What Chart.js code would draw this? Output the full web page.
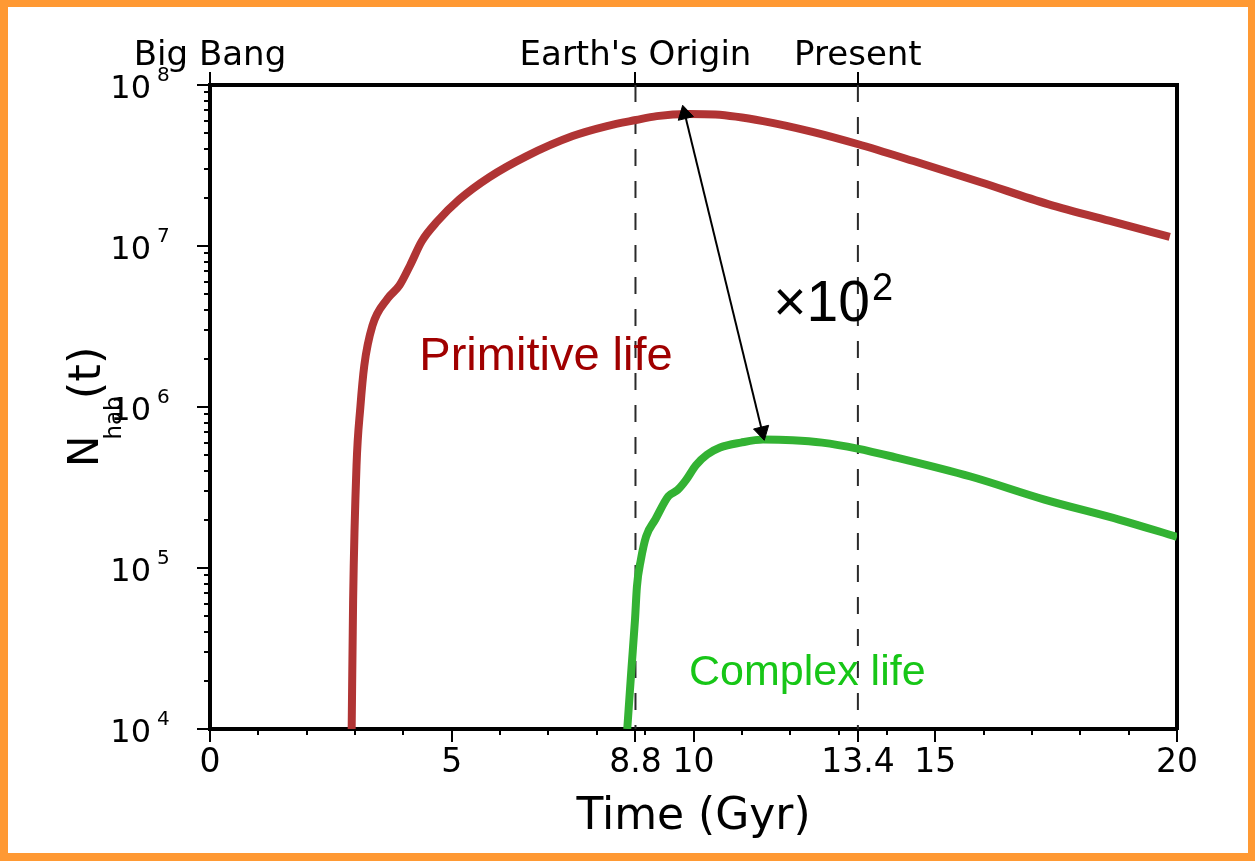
<!DOCTYPE html>
<html>
<head>
<meta charset="utf-8">
<script src="https://cdn.jsdelivr.net/npm/chart.js@4.4.1/dist/chart.umd.min.js"></script>
<style>
html, body { margin: 0; padding: 0; background: #ffffff; }
#wrap { position: relative; width: 1255px; height: 861px; background: #ffffff; }
#frame { position: absolute; left: 0; top: 0; width: 1255px; height: 861px; box-sizing: border-box;
  border-style: solid; border-color: #ff9933; border-width: 7px 7px 8px 8px; pointer-events: none; }
canvas { display: block; }
</style>
</head>
<body>
<div id="wrap"><canvas id="c" width="1255" height="861"></canvas><div id="frame"></div></div>
<script>
// ---------------- data ----------------
const redTime = [2.93, 2.96, 3.03, 3.11, 3.19, 3.36, 3.67, 3.92, 4.14, 4.38, 4.70, 5.16, 5.78, 6.55, 7.50, 8.21, 8.81, 9.24, 9.90, 10.45, 11.44, 12.48, 13.39, 14.55, 15.94, 17.33, 18.69, 19.85];
const redN    = [1.0e4, 6.3e4, 4.3e5, 1.0e6, 1.8e6, 3.2e6, 4.7e6, 5.7e6, 7.6e6, 1.07e7, 1.42e7, 1.95e7, 2.68e7, 3.62e7, 4.82e7, 5.56e7, 6.06e7, 6.41e7, 6.6e7, 6.55e7, 5.97e7, 5.1e7, 4.3e7, 3.37e7, 2.49e7, 1.82e7, 1.41e7, 1.14e7];

const greenTime = [8.63, 8.715, 8.79, 8.83, 8.91, 9.02, 9.21, 9.48, 9.67, 9.84, 10.05, 10.28, 10.55, 10.98, 11.44, 12.05, 12.66, 13.39, 14.20, 15.73, 17.26, 18.80, 20.0];
const greenN    = [1.0e4, 2.33e4, 4.77e4, 7.67e4, 1.12e5, 1.57e5, 2.0e5, 2.79e5, 3.05e5, 3.5e5, 4.35e5, 5.06e5, 5.6e5, 6.01e5, 6.28e5, 6.22e5, 6.01e5, 5.52e5, 4.85e5, 3.70e5, 2.66e5, 2.0e5, 1.56e5];

const arrowTime = [9.82, 11.42];
const arrowN    = [6.6e7, 7.04e5];

const eventTimes  = [0, 8.8, 13.4];
const eventLabels = ['Big Bang', "Earth's Origin", 'Present'];

const xRange = [0, 20];
const yRange = [1e4, 1e8];
const xMajorTicks = [0, 5, 8.8, 10, 13.4, 15, 20];
const yDecades = [1e4, 1e5, 1e6, 1e7, 1e8];

// ---------------- annotation texts ----------------
const notes = [
  { text: 'Primitive life', t: 4.33, n: 1.69e6, color: '#a00000', size: 47 },
  { text: '\u00d710', sup: '2', t: 11.65, n: 3.4e6, color: '#000000', size: 57, supSize: 38, supRaise: 21 },
  { text: 'Complex life', t: 9.907, n: 1.88e4, color: '#17c617', size: 43 }
];

const SANS = '"Liberation Sans", Arial, sans-serif';
const DEJA = '"DejaVu Sans", sans-serif';

function pts(xs, ys) { return xs.map((t, i) => ({ x: t, y: ys[i] })); }

function arrowRotation(ctx) {
  const ch = ctx.chart;
  const xs = ch.scales.x, ys = ch.scales.y;
  if (ctx.dataIndex === undefined || !xs || !ys) return 0;
  const i = ctx.dataIndex, j = 1 - i;
  const dx = xs.getPixelForValue(arrowTime[i]) - xs.getPixelForValue(arrowTime[j]);
  const dy = ys.getPixelForValue(arrowN[i]) - ys.getPixelForValue(arrowN[j]);
  return Math.atan2(dx, -dy) * 180 / Math.PI;
}

const deco = {
  id: 'deco',
  afterDraw(chart) {
    const { ctx, chartArea: ca } = chart;
    const x = chart.scales.x, y = chart.scales.y;
    ctx.save();
    // minor ticks
    ctx.strokeStyle = '#000';
    ctx.lineWidth = 2;
    for (let v = Math.ceil(xRange[0]); v <= xRange[1]; v++) {
      if (v % 5 === 0) continue;
      const px = Math.round(x.getPixelForValue(v));
      ctx.beginPath(); ctx.moveTo(px, ca.bottom); ctx.lineTo(px, ca.bottom + 6); ctx.stroke();
    }
    for (let d = 0; d < yDecades.length - 1; d++) {
      for (let k = 2; k <= 9; k++) {
        const py = Math.round(y.getPixelForValue(yDecades[d] * k));
        ctx.beginPath(); ctx.moveTo(ca.left, py); ctx.lineTo(ca.left - 6, py); ctx.stroke();
      }
    }
    // y tick labels 10^n
    ctx.fillStyle = '#000';
    ctx.textBaseline = 'alphabetic';
    for (const v of yDecades) {
      const py = y.getPixelForValue(v);
      ctx.font = '32px ' + DEJA;
      ctx.textAlign = 'right';
      ctx.fillText('10', ca.left - 59, py + 13);
      ctx.font = '20px ' + DEJA;
      ctx.textAlign = 'left';
      ctx.fillText(String(Math.round(Math.log10(v))), ca.left - 53, py - 4);
    }
    // y axis title N_hab(t)
    ctx.save();
    ctx.translate(98, (ca.top + ca.bottom) / 2 + 60);
    ctx.rotate(-Math.PI / 2);
    ctx.textAlign = 'left';
    ctx.font = '42px ' + DEJA;
    ctx.fillText('N', 0, 0);
    const wN = ctx.measureText('N').width;
    ctx.font = '23px ' + DEJA;
    ctx.fillText('hab', wN - 4, 23);
    const wH = ctx.measureText('hab').width;
    ctx.font = '45px ' + DEJA;
    ctx.fillText('(t)', wN - 7 + wH, 2);
    ctx.restore();
    // annotations
    for (const a of notes) {
      const px = x.getPixelForValue(a.t), py = y.getPixelForValue(a.n);
      ctx.fillStyle = a.color;
      ctx.textAlign = 'left';
      ctx.font = a.size + 'px ' + SANS;
      ctx.fillText(a.text, px, py);
      if (a.sup) {
        const w = ctx.measureText(a.text).width;
        ctx.font = a.supSize + 'px ' + SANS;
        ctx.fillText(a.sup, px + w + 2, py - a.supRaise);
      }
    }
    ctx.restore();
  }
};

const gridOpts = { drawOnChartArea: false, drawTicks: true, tickLength: 13, tickWidth: 2, tickColor: '#000', lineWidth: 2, color: '#000' };
const borderOpts = { display: true, width: 4, color: '#000' };

new Chart(document.getElementById('c'), {
  type: 'line',
  data: {
    datasets: [
      { label: 'arrow', data: pts(arrowTime, arrowN), borderColor: '#000', borderWidth: 2,
        pointStyle: 'triangle', pointRadius: 9, pointBackgroundColor: '#000', pointBorderColor: '#000',
        pointBorderWidth: 1, pointRotation: arrowRotation, tension: 0 },
      { label: 'Primitive life', data: pts(redTime, redN), borderColor: '#b03434', borderWidth: 8,
        pointRadius: 0, cubicInterpolationMode: 'monotone' },
      { label: 'Complex life', data: pts(greenTime, greenN), borderColor: '#33b233', borderWidth: 8,
        pointRadius: 0, cubicInterpolationMode: 'monotone' },
      ...eventTimes.slice(1).map(t => ({
        label: 'event', data: [{ x: t, y: yRange[1] }, { x: t, y: yRange[0] }],
        borderColor: '#2a2a2a', borderWidth: 2, borderDash: [17, 15], pointRadius: 0, tension: 0
      }))
    ]
  },
  options: {
    responsive: false,
    animation: false,
    devicePixelRatio: 1,
    layout: { padding: 0 },
    plugins: { legend: { display: false }, tooltip: { enabled: false } },
    elements: { line: { borderCapStyle: 'butt' } },
    scales: {
      x: {
        type: 'linear', position: 'bottom', min: xRange[0], max: xRange[1],
        afterBuildTicks: s => { s.ticks = xMajorTicks.map(v => ({ value: v })); },
        afterFit: s => { s.height = 132; },
        ticks: { autoSkip: false, maxRotation: 0, minRotation: 0, padding: 2, color: '#000',
          font: { family: DEJA, size: 33 }, callback: v => String(v) },
        grid: gridOpts, border: borderOpts,
        title: { display: true, text: 'Time (Gyr)', color: '#000', font: { family: DEJA, size: 44 },
          padding: { top: 0, bottom: 17 } }
      },
      x2: {
        type: 'linear', position: 'top', min: xRange[0], max: xRange[1],
        afterBuildTicks: s => { s.ticks = eventTimes.map(v => ({ value: v })); },
        afterFit: s => { s.height = 85; },
        ticks: { autoSkip: false, maxRotation: 0, minRotation: 0, padding: -5, color: '#000',
          font: { family: DEJA, size: 34 }, callback: (v, i) => eventLabels[i] },
        grid: gridOpts, border: borderOpts
      },
      y: {
        type: 'logarithmic', position: 'left', min: yRange[0], max: yRange[1],
        afterBuildTicks: s => { s.ticks = yDecades.map(v => ({ value: v })); },
        afterFit: s => { s.width = 210; },
        ticks: { display: false },
        grid: gridOpts, border: borderOpts
      },
      y2: {
        type: 'linear', position: 'right', min: 0, max: 1,
        afterFit: s => { s.width = 78; },
        ticks: { display: false },
        grid: { display: false }, border: borderOpts
      }
    }
  },
  plugins: [deco]
});
</script>
</body>
</html>
